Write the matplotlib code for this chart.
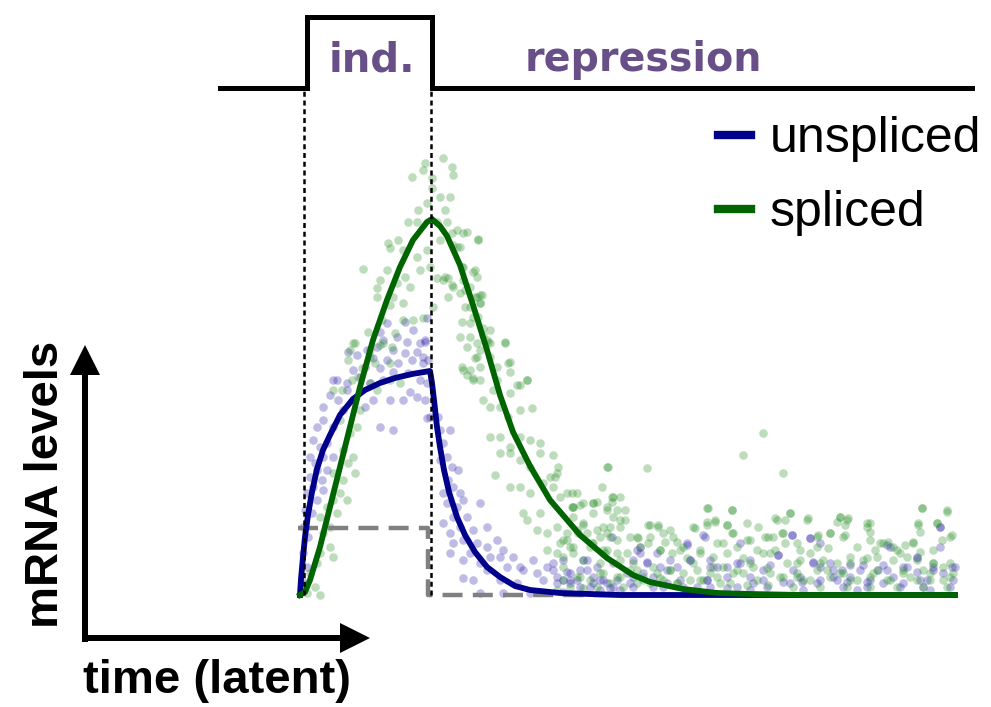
import numpy as np
import matplotlib
matplotlib.use("Agg")
import matplotlib.pyplot as plt

# latent time / mRNA level in arbitrary units (no ticks in the figure)
t_on = 5      # start of induction
t_off = 131   # switch to repression
t_end = 655

# fitted dynamics
u_t = [0, 1, 3, 5, 8, 12, 17, 23, 30, 40, 53, 65, 80, 95, 112, 130,
       132, 134, 137, 140, 144, 149, 157, 165, 175, 187, 200, 215, 230, 260, 320, 655]
u_fit = [0, 16, 38, 58, 80, 103, 126, 145, 160, 180, 196, 205, 212, 217, 221, 224,
         212, 195, 168, 148, 125, 103, 78, 60, 43, 28, 18, 9, 5, 2, 0, 0]

s_t = [0, 5, 10, 20, 30, 40, 50, 60, 73, 87, 100, 113, 127, 132,
       140, 147, 160, 173, 187, 200, 213, 230, 250, 280, 307, 333, 350, 383, 417, 450, 500, 655]
s_fit = [0, 3, 15, 48, 88, 128, 168, 208, 255, 295, 328, 355, 373, 376,
         369, 359, 330, 290, 245, 200, 163, 129, 95, 60, 37, 20, 13, 6, 2, 1, 0, 0]

# steady state level of unspliced (dashed grey)
u_ss_t = [-2, 128, 128, 655]
u_ss = [67, 67, 0, 0]

# transcription state (top panel)
state_t = [-80, t_on + 2, t_on + 2, t_off + 1, t_off + 1, 672]
state_lv = [507, 507, 578, 578, 507, 507]

# observed cells (unspliced)
u_obs = [
    (87,272),(127,277),(105,273),(80,263),(97,258),(113,265),(107,253),(83,255),(120,252),(125,253),
    (77,248),(93,245),(105,242),(117,243),(67,245),(57,240),(48,243),(73,237),(87,235),(98,232),
    (112,235),(123,232),(65,228),(80,227),(93,223),(108,222),(53,225),(60,218),(33,215),(30,200),
    (47,212),(70,212),(83,215),(120,215),(37,215),(47,205),(23,188),(38,195),(43,185),(53,195),
    (65,188),(73,195),(90,195),(103,195),(80,168),(93,165),(127,177),(110,203),(117,198),(23,175),
    (17,168),(33,168),(13,155),(27,152),(20,148),(10,138),(23,138),(33,138),(15,132),(17,125),
    (27,125),(10,118),(22,115),(13,108),(23,105),(7,102),(17,95),(5,85),(12,82),(3,68),
    (8,58),(3,42),(7,28),(2,15),
    (125,255),(123,238),(128,235),(127,212),(125,195),(130,178),(138,178),(150,165),(140,165),(143,152),
    (147,138),(140,135),(152,128),(158,125),(148,115),(153,108),(143,102),(160,102),(147,92),(157,88),
    (163,95),(180,92),(153,78),(167,78),(143,72),(160,68),(173,65),(150,62),(187,68),(197,55),
    (163,55),(177,52),(153,52),(187,48),(203,45),(150,42),(170,42),(190,38),(200,38),(213,38),
    (163,35),(180,32),(207,28),(220,28),(233,35),(223,25),(187,25),(163,17),(173,15),(200,15),
    (217,12),(237,22),(247,28),(253,25),(243,15),(257,12),(270,15),(280,8),(293,18),(307,12),
    (320,5),(333,18),(337,45),(180,2),(203,2),(230,2),(263,3),(300,5),
    (253,32),(257,18),(263,15),(283,35),(287,25),(277,15),(300,15),(312,58),(293,12),(317,15),
    (340,42),(347,32),(353,18),(367,25),(387,50),(390,35),(405,58),(407,15),(410,28),(427,28),
    (440,32),(450,18),(463,25),(478,40),(492,60),(510,57),(513,32),(520,28),(533,25),(537,15),
    (550,18),(563,30),(570,15),(587,25),(590,48),(603,28),(617,38),(620,15),(633,25),(640,68),
    (640,48),(650,8),(652,28),(567,8),(543,8),(517,12),(490,12),(467,8),(437,8),(410,8),
    (383,8),(363,8),(333,8),(310,7),(600,8),(623,8),(583,12),(450,5),(503,5),(557,5),
    (630,5),(377,28),(327,22),(270,22),
]
u_obs_tail = [
    (263,35),(287,35),(267,23),(280,25),(297,28),(313,32),(303,15),(270,12),(290,8),(313,8),
    (333,35),(340,48),(347,33),(357,42),(360,28),(343,22),(370,35),(380,15),(387,52),(390,35),
    (403,60),(410,35),(407,15),(417,28),(427,18),(437,32),(440,52),(450,35),(453,12),(330,12),
    (353,8),(367,12),(397,8),(427,7),
    (513,33),(520,52),(510,57),(492,60),(478,40),(470,30),(493,25),(483,13),(502,13),(530,32),
    (533,18),(547,13),(550,30),(560,25),(567,13),(578,25),(583,30),(587,50),(593,18),(603,12),
    (607,28),(617,37),(617,23),(627,15),(633,28),(640,68),(643,22),(653,15),(655,28),(463,15),
    (542,25),(520,15),(500,18),
]

# observed cells (spliced)
s_obs = [
    (143,437),(125,432),(123,425),(152,428),(132,417),(112,418),(153,420),(132,407),(140,398),(150,398),
    (127,392),(118,385),(145,385),(117,373),(108,373),(137,373),(147,373),(157,365),(167,363),(178,356),
    (98,355),(90,347),(88,352),(103,345),(117,338),(127,345),(153,350),(160,348),(63,326),(87,325),
    (105,318),(120,325),(137,317),(148,317),(162,328),(175,325),(177,318),(80,315),(97,312),(110,308),
    (77,307),(77,298),(93,298),(103,292),(90,290),(152,310),(165,305),(175,298),(180,300),(180,292),
    (165,288),(173,278),(162,273),(82,275),(103,275),(113,275),(123,277),(68,263),(95,262),(80,250),
    (55,252),(92,248),(170,258),(183,260),(177,252),(188,253),(205,253),(180,245),(190,238),(175,237),
    (162,228),(167,220),(173,217),(180,215),(210,233),(210,223),(227,215),(220,210),(62,227),(70,238),
    (75,232),(50,245),(52,215),(42,205),(33,205),(70,212),
    (53,252),(48,235),(70,245),(58,218),(83,252),(90,232),(90,215),(100,212),(77,205),(60,185),
    (57,168),(40,175),(50,162),(43,145),(53,138),(48,132),(55,122),(43,115),(33,122),(40,102),
    (47,95),(33,95),(27,88),(37,82),(30,68),(20,78),(23,62),(30,48),(33,38),(20,42),
    (17,32),(10,22),(15,8),(7,2),(20,0),
    (152,362),(157,348),(163,362),(178,355),(140,355),(130,328),(145,318),(143,315),(153,308),(163,328),
    (173,323),(163,315),(170,308),(148,298),(160,302),(177,298),(182,300),(170,288),(180,292),(133,288),
    (178,278),(170,272),(183,267),(190,265),(160,258),(187,255),(167,248),(177,238),(190,252),(205,252),
    (180,228),(197,228),(208,232),(170,225),(163,225),(173,215),(197,215),(227,215),(217,210),(210,202),
    (193,205),(183,195),(200,188),(220,185),(232,187),(190,188),(208,178),(190,158),(200,158),(210,148),
    (220,158),(230,155),(240,152),(200,142),(210,142),(220,135),(230,128),(240,142),(253,140),(195,120),
    (210,108),(220,108),(230,102),(243,112),(250,118),(257,122),(253,108),(267,102),(277,102),(273,88),
    (283,92),(293,92),(302,108),(307,128),(313,98),(320,98),(307,85),(317,85),(223,82),(227,75),
    (240,82),(237,65),(247,62),(257,68),(267,62),(277,65),(287,62),(297,65),(307,62),(320,68),
    (330,58),(260,52),(273,48),(290,48),(307,45),(317,42),(263,38),(283,35),(300,32),(333,32),
    (247,45),
    (258,128),(255,118),(260,98),(272,102),(308,128),(312,98),(297,93),(307,88),(272,88),(280,90),
    (325,85),(347,127),(293,82),(313,78),(283,72),(310,68),(325,75),(278,62),(263,55),(300,58),
    (317,55),(270,48),(292,52),(303,45),(327,42),(257,42),(348,70),(358,68),(370,65),(338,57),
    (350,58),(365,53),(377,53),(340,48),(360,45),(372,42),(383,48),(387,37),(395,67),(408,87),
    (407,73),(415,73),(427,70),(432,85),(432,62),(423,52),(437,48),(400,42),(413,38),(443,140),
    (463,162),(483,122),(447,72),(458,68),(468,58),(450,55),(477,75),(490,82),(483,62),(497,52),
    (507,75),(517,58),(530,62),(540,78),(547,75),(543,58),(557,48),(567,72),(570,63),(583,52),
    (600,42),(613,52),(622,87),(618,70),(637,72),(647,83),(650,58),(633,32),(617,35),(593,48),
    (577,38),(563,35),(550,32),(523,35),(510,42),(497,32),(463,42),(450,32),(437,25),(423,28),
    (410,22),(397,25),(383,22),(370,25),(357,22),(343,18),(330,25),(317,18),(303,22),(290,15),
    (277,18),(263,15),(270,8),(297,8),(323,8),(350,12),(377,12),(403,15),(430,12),(457,15),
    (483,18),(503,15),(530,18),(550,15),(570,18),(590,15),(610,18),(630,15),(650,18),(643,28),
    (623,25),(603,25),(577,25),(543,22),(517,25),(497,18),(470,22),(443,22),(417,18),(390,15),
    (363,15),(337,12),(310,12),(283,7),(257,5),
]
s_obs_tail = [
    (273,88),(293,92),(312,93),(273,78),(283,70),(303,68),(320,75),(310,58),(293,52),(267,55),
    (273,42),(305,42),(320,35),(337,58),(350,70),(358,70),(363,62),(348,52),(360,45),(373,58),
    (380,45),(337,25),(353,28),(370,25),(393,68),(407,70),(415,75),(432,85),(407,87),(427,70),
    (433,62),(447,55),(417,52),(400,45),(427,42),(443,37),(393,32),(413,28),(433,22),(453,28),
    (457,45),(263,28),(280,18),(300,22),(320,18),(343,15),(360,17),(377,12),(400,15),(420,12),
    (447,10),
    (475,77),(485,75),(490,82),(508,77),(465,58),(473,58),(482,62),(485,52),(475,45),(470,42),
    (500,45),(518,60),(530,62),(540,78),(548,77),(545,70),(545,60),(537,73),(528,47),(517,48),
    (570,72),(567,68),(570,55),(580,52),(588,53),(575,45),(597,45),(605,50),(613,53),(622,87),
    (618,72),(620,63),(637,72),(647,85),(642,55),(652,60),(633,45),(633,32),(650,32),(620,43),
    (607,38),(593,35),(567,37),(550,38),(537,32),(520,32),(500,35),(487,32),(467,27),(480,18),
    (497,22),(510,15),(527,25),(540,22),(557,15),(573,22),(587,15),(603,22),(617,15),(630,22),
    (643,15),(653,22),(468,10),(493,8),(520,8),(547,8),(570,8),(597,8),(623,8),(647,8),
]

blue = '#00008b'
green = '#006400'
purple = '#684f88'

fig = plt.figure(figsize=(9.91, 7.07), dpi=100)
ax = fig.add_axes([0, 0, 1, 1])
ax.set_xlim(-300, 691)
ax.set_ylim(-112, 595)
ax.axis('off')

u_all = np.array(u_obs + u_obs_tail)
s_all = np.array(s_obs + s_obs_tail)
ax.scatter(u_all[:, 0], u_all[:, 1], s=38, c='#2a1fa8', alpha=0.3, lw=0, zorder=1)
ax.scatter(s_all[:, 0], s_all[:, 1], s=38, c='#238c23', alpha=0.3, lw=0, zorder=1)

ax.plot(u_ss_t, u_ss, c='gray', lw=3.2, ls=(0, (4.5, 2.3)), zorder=2)
lu, = ax.plot(u_t, u_fit, c=blue, lw=4.2, zorder=3, label='unspliced')
ls_, = ax.plot(s_t, s_fit, c=green, lw=4.2, zorder=3, label='spliced')

# switching times
for ts in [t_on - 1, t_off]:
    ax.plot([ts, ts], [0, 505], c='k', lw=1.8, ls=(0, (2, 1.5)), zorder=4)

ax.plot(state_t, state_lv, c='k', lw=3.6, solid_joinstyle='miter', zorder=4)
ax.text(72, 524, 'ind.', color=purple, fontsize=29, fontweight='bold',
        family='DejaVu Sans', ha='center', va='baseline')
ax.text(343, 524, 'repression', color=purple, fontsize=28.5, fontweight='bold',
        family='DejaVu Sans', ha='center', va='baseline')

# schematic axes
ax.arrow(-215, -47, 0, 297, width=6, head_width=30, head_length=30,
         length_includes_head=True, fc='k', ec='none')
ax.arrow(-218, -43, 288, 0, width=6, head_width=30, head_length=30,
         length_includes_head=True, fc='k', ec='none')
ax.text(-254, 111, 'mRNA levels', rotation=90, fontsize=34, fontweight='bold',
        family='Liberation Sans', ha='center', va='center')
ax.text(-83, -86, 'time (latent)', fontsize=34, fontweight='bold',
        family='Liberation Sans', ha='center', va='center')

leg = ax.legend(handles=[lu, ls_], loc='upper left', bbox_to_anchor=(718 / 991, 1 - 116 / 707),
                frameon=False, borderpad=0, borderaxespad=0, handlelength=0.66,
                handletextpad=0.38, labelspacing=0.56,
                prop={'family': 'Liberation Sans', 'size': 36})
for l in leg.get_lines():
    l.set_linewidth(6)

fig.savefig('out.png', dpi=100)
